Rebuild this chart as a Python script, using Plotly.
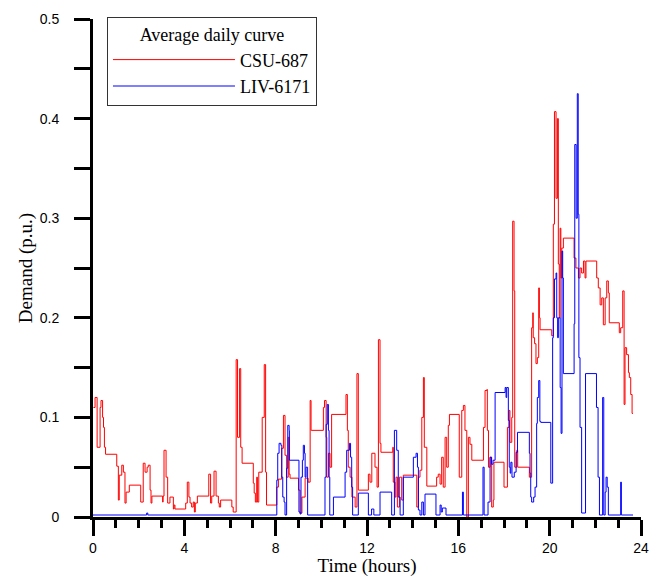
import plotly.graph_objects as go

# ---- Data (hours, demand p.u.) ----
csu_t = [0.02, 0.09, 0.18, 0.31, 0.35, 0.42, 0.46, 0.50, 0.55, 1.04,
         1.11, 1.15, 1.26, 1.33, 1.40, 1.45, 1.59, 2.09, 2.20, 2.28,
         2.37, 2.42, 2.50, 2.54, 2.58, 3.05, 3.07, 3.11, 3.20, 3.27,
         3.37, 3.52, 3.55, 3.59, 4.06, 4.13, 4.20, 4.25, 4.32, 4.39,
         4.44, 4.48, 4.57, 5.07, 5.15, 5.20, 5.30, 5.39, 5.49, 5.53,
         5.59, 6.08, 6.14, 6.27, 6.33, 6.42, 6.47, 6.53, 7.02, 7.06,
         7.11, 7.17, 7.20, 7.26, 7.41, 7.50, 7.56, 7.60, 8.05, 8.12,
         8.26, 8.34, 8.41, 8.48, 8.55, 8.59, 8.63, 9.00, 9.07, 9.15,
         9.29, 9.42, 9.51, 9.55, 9.58, 10.09, 10.14, 10.21, 10.24, 10.31,
         10.38, 10.45, 11.08, 11.14, 11.18, 11.26, 11.34, 11.48, 11.56, 11.62,
         12.06, 12.13, 12.21, 12.35, 12.44, 12.50, 12.57, 12.61, 13.13, 13.15,
         13.23, 13.27, 13.33, 13.42, 13.52, 13.59, 14.18, 14.25, 14.32, 14.40,
         14.47, 14.51, 14.62, 15.05, 15.12, 15.20, 15.27, 15.34, 15.42, 15.49,
         15.56, 15.61, 16.04, 16.15, 16.22, 16.29, 16.37, 16.44, 16.51, 16.59,
         17.10, 17.17, 17.25, 17.27, 17.32, 17.39, 17.46, 17.53, 17.56, 18.00,
         18.15, 18.22, 18.26, 18.34, 18.38, 18.44, 18.47, 18.56, 18.60, 19.11,
         19.21, 19.26, 19.28, 19.34, 19.40, 19.46, 19.52, 19.55, 19.58, 20.09,
         20.16, 20.21, 20.28, 20.34, 20.38, 20.42, 20.46, 20.49, 20.53, 20.60,
         21.07, 21.15, 21.26, 21.33, 21.40, 21.48, 21.55, 21.59, 22.06, 22.13,
         22.21, 22.28, 22.35, 22.43, 22.50, 22.57, 22.61, 23.05, 23.11, 23.20,
         23.26, 23.30, 23.37, 23.45, 23.49, 23.55, 23.61, 23.65]
csu_v = [0.110, 0.120, 0.070, 0.110, 0.117, 0.100, 0.090, 0.070, 0.063, 0.051,
         0.017, 0.042, 0.052, 0.045, 0.014, 0.025, 0.032, 0.015, 0.054, 0.045,
         0.050, 0.052, 0.027, 0.014, 0.021, 0.015, 0.021, 0.067, 0.040, 0.014,
         0.020, 0.008, 0.012, 0.008, 0.014, 0.035, 0.020, 0.014, 0.010, 0.015,
         0.005, 0.014, 0.021, 0.043, 0.014, 0.021, 0.046, 0.021, 0.014, 0.010,
         0.017, 0.010, 0.005, 0.158, 0.080, 0.149, 0.070, 0.054, 0.034, 0.024,
         0.015, 0.040, 0.015, 0.045, 0.100, 0.153, 0.045, 0.012, 0.030, 0.038,
         0.069, 0.102, 0.062, 0.040, 0.080, 0.043, 0.039, 0.027, 0.004, 0.020,
         0.039, 0.035, 0.117, 0.087, 0.087, 0.110, 0.117, 0.080, 0.040, 0.064,
         0.050, 0.103, 0.123, 0.087, 0.050, 0.040, 0.020, 0.010, 0.144, 0.027,
         0.043, 0.035, 0.064, 0.050, 0.030, 0.178, 0.074, 0.065, 0.070, 0.035,
         0.020, 0.040, 0.010, 0.040, 0.017, 0.042, 0.010, 0.040, 0.047, 0.100,
         0.140, 0.070, 0.031, 0.040, 0.043, 0.033, 0.060, 0.030, 0.080, 0.050,
         0.092, 0.103, 0.040, 0.107, 0.112, 0.087, 0.000, 0.080, 0.073, 0.057,
         0.090, 0.127, 0.128, 0.087, 0.050, 0.060, 0.010, 0.017, 0.055, 0.030,
         0.090, 0.107, 0.075, 0.100, 0.297, 0.227, 0.050, 0.067, 0.050, 0.040,
         0.190, 0.205, 0.180, 0.174, 0.154, 0.160, 0.230, 0.200, 0.188, 0.182,
         0.294, 0.407, 0.320, 0.400, 0.254, 0.200, 0.290, 0.240, 0.270, 0.280,
         0.260, 0.250, 0.240, 0.250, 0.245, 0.257, 0.240, 0.257, 0.240, 0.230,
         0.213, 0.220, 0.193, 0.220, 0.237, 0.225, 0.195, 0.185, 0.190, 0.227,
         0.113, 0.170, 0.163, 0.145, 0.140, 0.123, 0.104, 0.104]

liv_t = [0.00, 2.35, 2.40, 8.05, 8.09, 8.15, 8.23, 8.27, 8.31, 8.37,
         8.41, 8.48, 8.53, 8.59, 8.60, 9.02, 9.07, 9.11, 9.17, 9.21,
         9.26, 9.29, 9.33, 9.40, 10.16, 10.21, 10.26, 10.31, 10.34, 10.37,
         10.53, 11.04, 11.11, 11.23, 11.28, 11.33, 11.37, 11.62, 12.06, 12.20,
         12.30, 12.57, 13.08, 13.20, 13.30, 13.37, 13.45, 13.59, 14.03, 14.15,
         14.21, 14.25, 14.32, 14.40, 14.47, 14.54, 15.02, 15.20, 15.25, 15.30,
         15.46, 16.18, 16.22, 17.08, 17.13, 17.30, 17.39, 17.45, 17.52, 17.61,
         18.05, 18.09, 18.12, 18.19, 18.23, 18.27, 18.30, 18.35, 18.45, 18.53,
         18.59, 19.11, 19.14, 19.17, 19.21, 19.30, 19.36, 19.43, 19.46, 19.52,
         19.57, 19.61, 20.05, 20.13, 20.16, 20.21, 20.28, 20.31, 20.35, 20.38,
         20.46, 20.50, 20.54, 20.57, 20.60, 21.07, 21.10, 21.16, 21.21, 21.25,
         21.28, 21.33, 21.40, 21.57, 22.05, 22.12, 22.18, 22.32, 22.37, 22.43,
         22.47, 22.52, 22.57, 23.11, 23.14, 23.65]
liv_v = [0.002, 0.004, 0.002, 0.037, 0.064, 0.074, 0.072, 0.040, 0.020, 0.015,
         0.002, 0.049, 0.092, 0.087, 0.057, 0.005, 0.003, 0.040, 0.057, 0.072,
         0.064, 0.040, 0.050, 0.002, 0.040, 0.093, 0.113, 0.087, 0.040, 0.002,
         0.020, 0.045, 0.067, 0.074, 0.060, 0.030, 0.002, 0.024, 0.002, 0.008,
         0.002, 0.025, 0.002, 0.087, 0.067, 0.020, 0.002, 0.040, 0.060, 0.064,
         0.050, 0.007, 0.002, 0.015, 0.002, 0.023, 0.002, 0.012, 0.005, 0.009,
         0.002, 0.025, 0.002, 0.050, 0.002, 0.015, 0.060, 0.053, 0.057, 0.125,
         0.130, 0.120, 0.130, 0.097, 0.050, 0.044, 0.055, 0.040, 0.045, 0.065,
         0.085, 0.064, 0.044, 0.020, 0.015, 0.020, 0.030, 0.094, 0.120, 0.137,
         0.096, 0.095, 0.034, 0.180, 0.200, 0.239, 0.245, 0.200, 0.180, 0.200,
         0.130, 0.084, 0.267, 0.240, 0.144, 0.194, 0.374, 0.300, 0.425, 0.304,
         0.160, 0.090, 0.004, 0.144, 0.110, 0.040, 0.002, 0.120, 0.002, 0.025,
         0.040, 0.030, 0.002, 0.035, 0.002, 0.002]

assert len(csu_t) == len(csu_v)
assert len(liv_t) == len(liv_v)

x_ticks = [0, 4, 8, 12, 16, 20, 24]
y_ticks = [0, 0.1, 0.2, 0.3, 0.4, 0.5]
y_tick_text = ["0", "0.1", "0.2", "0.3", "0.4", "0.5"]

fig = go.Figure()
fig.add_trace(go.Scatter(x=csu_t, y=csu_v, mode="lines", name="CSU-687",
                         line=dict(color="#ff0000", width=1, shape="hv")))
fig.add_trace(go.Scatter(x=liv_t, y=liv_v, mode="lines", name="LIV-6171",
                         line=dict(color="#0000ff", width=1, shape="hv")))

serif = "Liberation Serif, Times New Roman, serif"
sans = "Liberation Sans, Arial, sans-serif"

# The page body has an 8px margin, so the figure is sized/placed to compensate.
fig.update_layout(
    width=651, height=569,
    margin=dict(l=85, r=18, t=9, b=60),
    plot_bgcolor="white", paper_bgcolor="white",
    showlegend=True,
    legend=dict(
        x=0.0255, y=1.004, xanchor="left", yanchor="top",
        bordercolor="#333333", borderwidth=1, bgcolor="white",
        font=dict(family=serif, size=18, color="black"),
        title=dict(text="Average daily curve", side="top center",
                   font=dict(family=serif, size=18, color="black")),
        itemwidth=122,
    ),
    xaxis=dict(
        range=[0, 24], tickvals=x_ticks, ticktext=[str(v) for v in x_ticks],
        showline=True, linecolor="black", linewidth=3,
        ticks="outside", ticklen=16, tickwidth=3, tickcolor="black",
        minor=dict(dtick=1, ticks="outside", ticklen=8, tickwidth=3, tickcolor="black"),
        showgrid=False, zeroline=False, automargin=False,
        tickfont=dict(family=sans, size=14, color="black"),
        title=dict(text="Time (hours)", font=dict(family=serif, size=19, color="black"), standoff=2),
    ),
    yaxis=dict(
        range=[0, 0.5], tickvals=y_ticks, ticktext=y_tick_text,
        showline=True, linecolor="black", linewidth=3,
        ticks="outside", ticklen=16, tickwidth=3, tickcolor="black",
        minor=dict(dtick=0.05, ticks="outside", ticklen=16, tickwidth=3, tickcolor="black"),
        showgrid=False, zeroline=False, automargin=False,
        ticklabelstandoff=12,
        tickfont=dict(family=sans, size=14, color="black"),
        title=dict(text="Demand (p.u.)", font=dict(family=serif, size=19, color="black"), standoff=3),
    ),
)

fig.write_html("out.html")
